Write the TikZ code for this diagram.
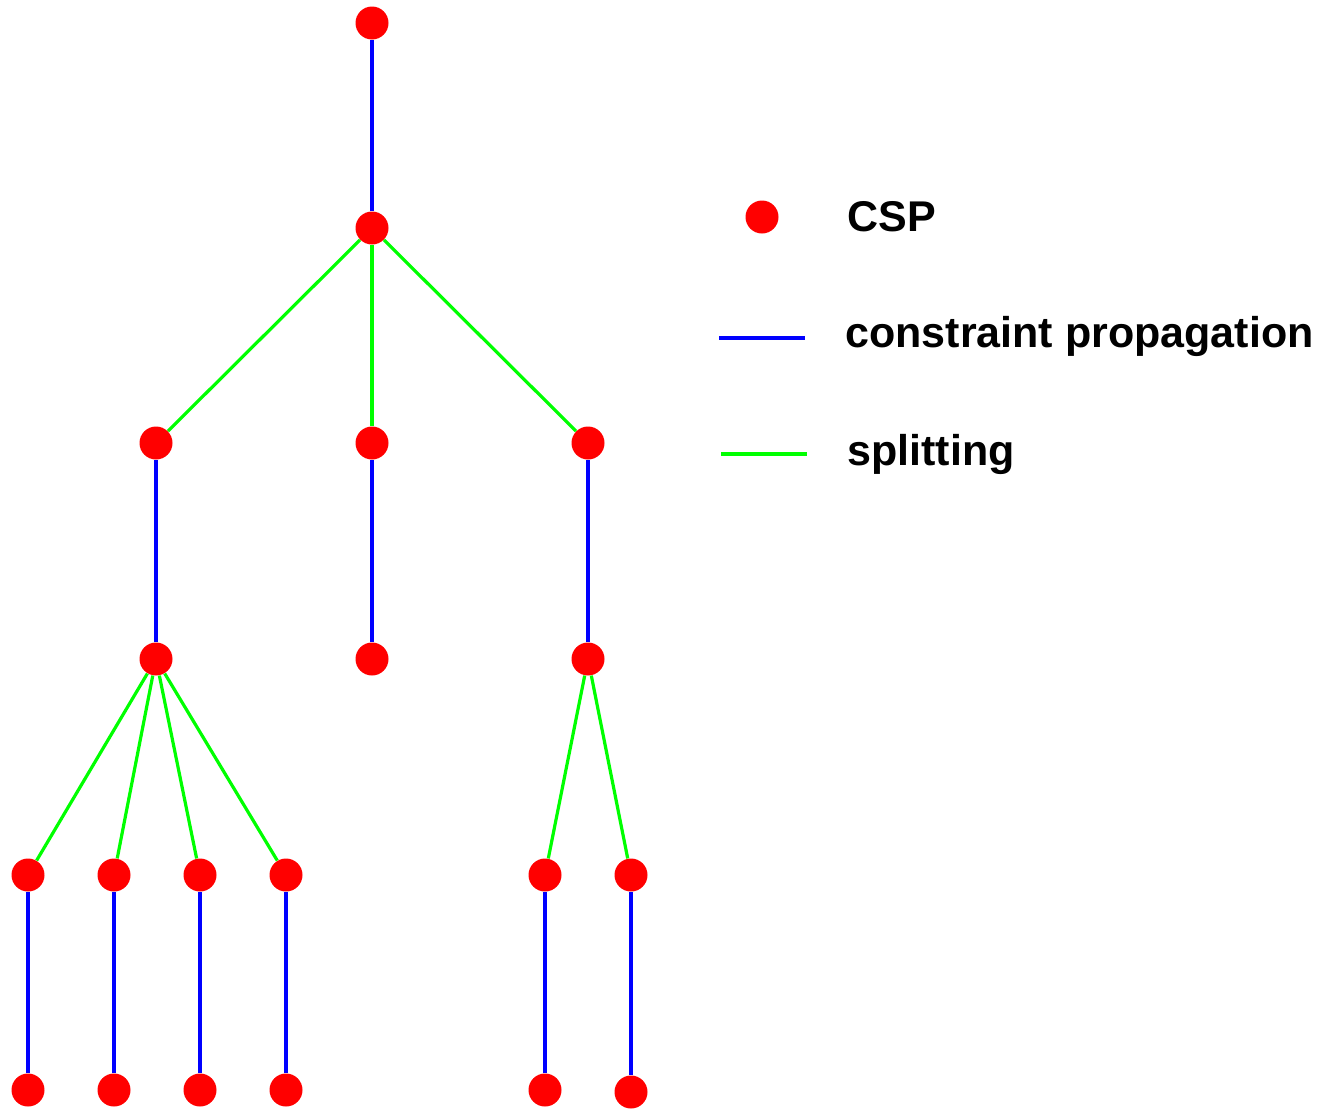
\documentclass[tikz,border=0pt]{standalone}
\usepackage{fontspec}
\setmainfont{Liberation Sans}
\begin{document}
\begin{tikzpicture}[x=0.5pt,y=-0.5pt,
  csp/.style={circle,fill=red,inner sep=0pt,minimum size=16.5pt},
  prop/.style={draw=blue,line width=1.6pt},
  split/.style={draw=green,line width=1.6pt},
  lbl/.style={anchor=west,font=\bfseries\fontsize{21.5}{25}\selectfont,inner sep=0pt}]
\useasboundingbox (0,0) rectangle (1321,1108);
\node[csp] (r) at (372,23) {};
\node[csp] (n) at (372,228) {};
\node[csp] (a) at (156,443) {};
\node[csp] (b) at (372,443) {};
\node[csp] (c) at (588,443) {};
\node[csp] (a2) at (156,659) {};
\node[csp] (b2) at (372,659) {};
\node[csp] (c2) at (588,659) {};
\node[csp] (l1) at (28,875) {};
\node[csp] (l2) at (114,875) {};
\node[csp] (l3) at (200,875) {};
\node[csp] (l4) at (286,875) {};
\node[csp] (l5) at (545,875) {};
\node[csp] (l6) at (631,875) {};
\node[csp] (m1) at (28,1090) {};
\node[csp] (m2) at (114,1090) {};
\node[csp] (m3) at (200,1090) {};
\node[csp] (m4) at (286,1090) {};
\node[csp] (m5) at (545,1090) {};
\node[csp] (m6) at (631,1092) {};
\draw[prop] (r) -- (n);
\draw[split] (n) -- (a);
\draw[split] (n) -- (b);
\draw[split] (n) -- (c);
\draw[prop] (a) -- (a2);
\draw[prop] (b) -- (b2);
\draw[prop] (c) -- (c2);
\foreach \i in {1,2,3,4} \draw[split] (a2) -- (l\i);
\foreach \i in {5,6} \draw[split] (c2) -- (l\i);
\foreach \i in {1,...,6} \draw[prop] (l\i) -- (m\i);
% legend
\node[csp] (kd) at (762,217) {};
\node[lbl] (kt1) at (847,217) {CSP};
\coordinate (p1) at (719,338);
\coordinate (p2) at (805,338);
\draw[prop] (p1) -- (p2);
\node[lbl] (kt2) at (845,336) {constraint propagation};
\coordinate (s1) at (721,454);
\coordinate (s2) at (807,454);
\draw[split] (s1) -- (s2);
\node[lbl] (kt3) at (847,454) {splitting};
\end{tikzpicture}
\end{document}
